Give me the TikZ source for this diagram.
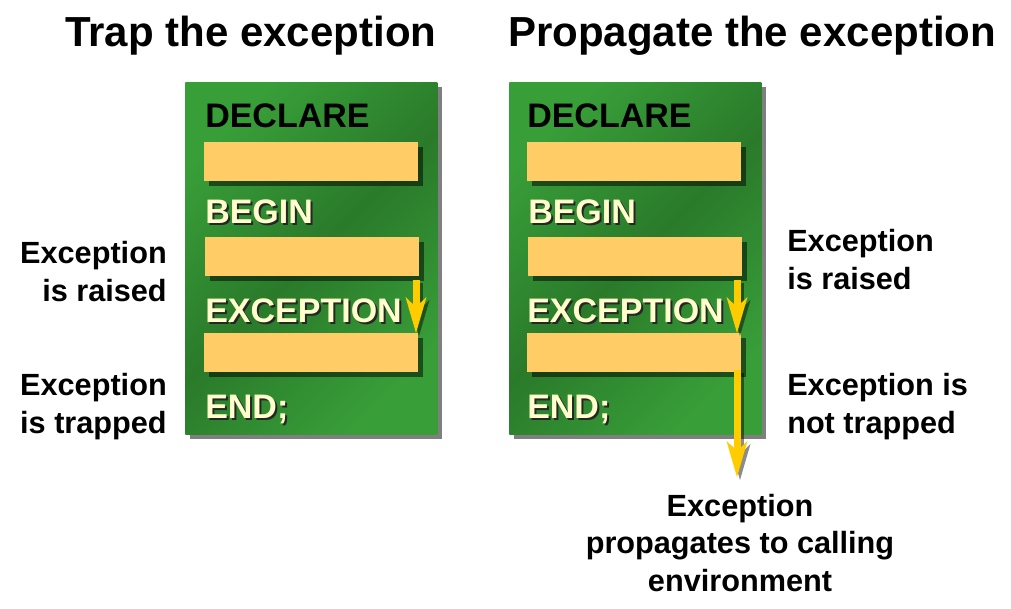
\documentclass[tikz,border=0pt]{standalone}
\usepackage{fontspec}
\setmainfont{Liberation Sans}
\usetikzlibrary{arrows.meta,shadows}
\definecolor{gA}{RGB}{56,158,56}
\definecolor{gB}{RGB}{42,122,42}
\definecolor{boxc}{RGB}{255,204,102}
\definecolor{cream}{RGB}{255,255,204}
\definecolor{arrc}{RGB}{255,204,0}
\tikzset{
  panel/.style={shade, top color=gA, bottom color=gA, middle color=gB, shading angle=45,
    minimum width=189pt, minimum height=264pt, inner sep=0pt, anchor=north west,
    drop shadow={shadow xshift=3.75pt, shadow yshift=-3.75pt, fill=black, opacity=.5}},
  codebox/.style={fill=boxc, minimum width=160.5pt, minimum height=29.25pt, inner sep=0pt, anchor=north west,
    drop shadow={shadow xshift=3.75pt, shadow yshift=-3.75pt, fill=black, opacity=.5}},
  kw/.style={font=\fontsize{25.5}{30}\selectfont\bfseries, inner sep=0pt, anchor=base west},
  kwsh/.style={kw, text=black!85},
  title/.style={font=\fontsize{31.5}{36}\selectfont\bfseries, inner sep=0pt, anchor=base west},
  lbl/.style={font=\fontsize{23}{28}\selectfont\bfseries, inner sep=0pt},
  arr/.style={draw=arrc, line width=5.25pt, -{Stealth[length=27pt, width=15.75pt, inset=7.5pt, line width=0pt]}},
  arrsh/.style={arr, draw=black, opacity=.45, transform canvas={xshift=2.25pt, yshift=-2.25pt}},
}
\begin{document}
\begin{tikzpicture}[x=0.75pt,y=-0.75pt]
\useasboundingbox (0,0) rectangle (1011,608);
% titles
\node[title] (tL) at (65,46) {Trap the exception};
\node[title] (tR) at (508,46) {Propagate the exception};
% panels
\node[panel] (pL) at (185,82) {};
\node[panel] (pR) at (509,82) {};
% boxes
\node[codebox] (b1L) at (204,142) {};
\node[codebox] (b2L) at (205,237) {};
\node[codebox] (b3L) at (204,333) {};
\node[codebox] (b1R) at (527,142) {};
\node[codebox] (b2R) at (528,237) {};
\node[codebox] (b3R) at (527,333) {};
% keywords left
\node[kw] (dL) at (205,127) {DECLARE};
\node[kwsh] (bgLs) at (207,225) {BEGIN};
\node[kw, text=cream] (bgL) at (205,223) {BEGIN};
\node[kwsh] (exLs) at (207,324) {EXCEPTION};
\node[kw, text=cream] (exL) at (205,322) {EXCEPTION};
\node[kwsh] (enLs) at (207,420) {END;};
\node[kw, text=cream] (enL) at (205,418) {END;};
% keywords right
\node[kw] (dR) at (527,127) {DECLARE};
\node[kwsh] (bgRs) at (530,225) {BEGIN};
\node[kw, text=cream] (bgR) at (528,223) {BEGIN};
\node[kwsh] (exRs) at (529,324) {EXCEPTION};
\node[kw, text=cream] (exR) at (527,322) {EXCEPTION};
\node[kwsh] (enRs) at (529,420) {END;};
\node[kw, text=cream] (enR) at (527,418) {END;};
% arrows
\coordinate (aL) at (416,280);
\coordinate (aR) at (737,280);
\coordinate (aRend) at (737,477);
\draw[arrsh] (aL) -- (aL |- b3L.north);
\draw[arr] (aL) -- (aL |- b3L.north);
\draw[arrsh] (aR) -- (aR |- b3R.north);
\draw[arr] (aR) -- (aR |- b3R.north);
\draw[arrsh] ([yshift=2.25pt]aR |- b3R.south) -- (aRend);
\draw[arr] ([yshift=2.25pt]aR |- b3R.south) -- (aRend);
% side labels (anchor at baseline of last line)
\node[lbl, align=right, anchor=base east] (l1) at (167,301) {Exception\\is raised};
\node[lbl, align=right, anchor=base east] (l2) at (167,433) {Exception\\is trapped};
\node[lbl, align=left, anchor=base west] (r1) at (787,289) {Exception\\is raised};
\node[lbl, align=left, anchor=base west] (r2) at (787,433) {Exception is\\not trapped};
\node[lbl, align=center, anchor=base] (bt) at (740,591) {Exception\\propagates to calling\\environment};
\end{tikzpicture}
\end{document}
